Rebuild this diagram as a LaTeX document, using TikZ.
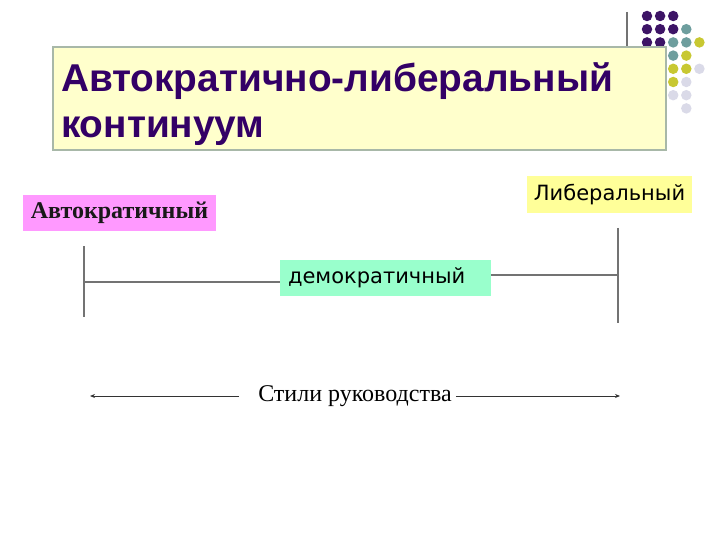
\documentclass[tikz,border=0pt]{standalone}
\usepackage{fontspec}
\setmainfont{Liberation Serif}
\newfontfamily\titlefont{Liberation Sans}
\newfontfamily\dvsans{DejaVu Sans}
\usetikzlibrary{arrows.meta}
\definecolor{titlefill}{HTML}{FFFFCC}
\definecolor{titleborder}{HTML}{A8B8A8}
\definecolor{titletext}{HTML}{330066}
\definecolor{autofill}{HTML}{FF99FF}
\definecolor{libfill}{HTML}{FFFF99}
\definecolor{demofill}{HTML}{99FFCC}
\definecolor{linegray}{HTML}{737373}
\definecolor{dotpurple}{HTML}{3D1466}
\definecolor{dotteal}{HTML}{6E9E9E}
\definecolor{dotolive}{HTML}{C8C832}
\definecolor{dotlav}{HTML}{DADAE8}
\tikzset{
  label box/.style={inner sep=0pt, anchor=center},
  conn/.style={draw=linegray, line width=1.8pt},
  arrowline/.style={draw=black!80, line width=0.9pt, -{Stealth[length=5pt,width=4pt]}},
  dotstyle/.style={circle, inner sep=0pt, minimum size=10.5pt},
}
\begin{document}
\begin{tikzpicture}[x=1pt,y=-1pt]
\useasboundingbox (0,0) rectangle (720,540);
% decorative line and dots
\coordinate (decoTop) at (627,12);
\coordinate (decoBot) at (627,60);
\draw[conn, line width=1.5pt] (decoTop) -- (decoBot);
\foreach \c/\r/\col in {0/0/dotpurple,1/0/dotpurple,2/0/dotpurple,
  0/1/dotpurple,1/1/dotpurple,2/1/dotpurple,3/1/dotteal,
  0/2/dotpurple,1/2/dotpurple,2/2/dotteal,3/2/dotteal,4/2/dotolive,
  2/3/dotteal,3/3/dotolive,
  2/4/dotolive,3/4/dotolive,4/4/dotlav,
  2/5/dotolive,3/5/dotlav,
  2/6/dotlav,3/6/dotlav,
  3/7/dotlav}
  \node[dotstyle, fill=\col] (dot\c\r) at ({647+13.1*\c},{16+13.2*\r}) {};
% title
\node[draw=titleborder, line width=1.5pt, fill=titlefill, minimum width=613pt, minimum height=103pt,
  text width=597pt, align=left, inner xsep=8pt, text=titletext,
  font=\titlefont\bfseries\fontsize{38.8}{46}\selectfont] (title) at (359.5,98.5)
  {\rule{0pt}{41pt}Автократично-либеральный\\континуум\rule[-8pt]{0pt}{8pt}};
% labels
\node[label box, fill=autofill, minimum width=193pt, minimum height=36pt,
  font=\bfseries\fontsize{24}{28}\selectfont, text=black!90] (auto) at (119.5,213) {Автократичный};
\node[label box, fill=libfill, minimum width=165pt, minimum height=37pt,
  font=\dvsans\fontsize{21}{25}\selectfont] (lib) at (609.5,194.5) {Либеральный};
\node[label box, fill=demofill, minimum width=211pt, minimum height=36pt,
  font=\dvsans\fontsize{21}{25}\selectfont, text width=195pt, align=left] (demo) at (385.5,278) {демократичный};
% connectors
\coordinate (lTop) at (84,246);
\coordinate (lBot) at (84,317);
\coordinate (lMid) at (84,282);
\coordinate (rTop) at (618,228);
\coordinate (rBot) at (618,323);
\coordinate (rMid) at (618,275);
\draw[conn] (lTop) -- (lBot);
\draw[conn] (rTop) -- (rBot);
\draw[conn] (lMid) -- (lMid -| demo.west);
\draw[conn] (demo.east |- rMid) -- (rMid);
% bottom axis
\node[font=\fontsize{24}{28}\selectfont, inner sep=0pt] (styles) at (355,396) {Стили руководства};
\coordinate (axL) at (90,396);
\coordinate (axR) at (620,396);
\draw[arrowline] ([xshift=-19pt]styles.west |- axL) -- (axL);
\draw[arrowline] ([xshift=4pt]styles.east |- axR) -- (axR);
\end{tikzpicture}
\end{document}
